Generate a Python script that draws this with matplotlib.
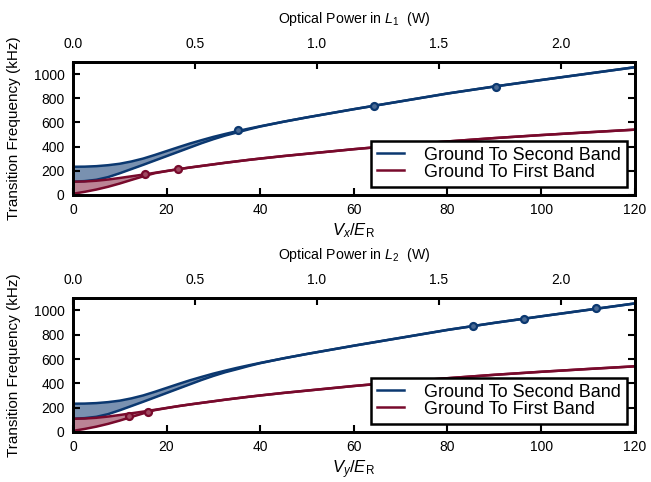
import matplotlib
matplotlib.use('Agg')
import matplotlib.pyplot as plt
import numpy as np

plt.rcParams['font.family'] = ['Liberation Sans', 'DejaVu Sans']
plt.rcParams['mathtext.fontset'] = 'custom'
plt.rcParams['mathtext.rm'] = 'Liberation Sans'
plt.rcParams['mathtext.it'] = 'Liberation Sans:italic'

# lattice depth grid (V/E_R)
V = [0, 2.5, 5, 7.5, 10, 12.5, 15, 17.5, 20, 22.5, 25, 27.5, 30, 32.5, 35, 37.5, 40, 45, 50, 60, 70, 80, 90, 100, 110, 120]
# ground -> second band, upper / lower edge (kHz)
second_hi = [232, 233, 237, 245, 257, 276, 300, 330, 362, 394, 425, 453, 480, 504, 527, 548, 568, 606, 642, 710, 775, 840, 898, 952, 1005, 1058]
second_lo = [108, 113, 124, 146, 178, 213, 248, 284, 320, 356, 392, 428, 461, 491, 516, 542, 566, 606, 642, 710, 775, 840, 898, 952, 1005, 1058]
# ground -> first band, upper / lower edge (kHz)
first_hi = [108, 110, 116, 126, 139, 153, 167, 182, 197, 212, 226, 239, 252, 265, 277, 289, 300, 321, 340, 378, 412, 442, 470, 495, 518, 540]
first_lo = [8, 24, 43, 66, 93, 123, 152, 179, 196, 212, 226, 239, 252, 265, 277, 289, 300, 321, 340, 378, 412, 442, 470, 495, 518, 540]

# measured points
top_blue_V = [35.2, 64.3, 90.3]
top_blue_f = [534, 737, 898]
top_red_V = [15.4, 22.4]
top_red_f = [169, 212]
bot_blue_V = [85.4, 96.3, 111.7]
bot_blue_f = [875, 933, 1017]
bot_red_V = [12.0, 16.0]
bot_red_f = [133, 167]

W_per_ER = 1 / 52.1

blue = '#0b3870'
red = '#780a2c'
fs = 10

fig = plt.figure(figsize=(6.51, 4.82), dpi=100, facecolor='w')
ax1 = fig.add_axes([0.112, 0.596, 0.863, 0.275])
ax2 = fig.add_axes([0.112, 0.104, 0.863, 0.277])


def panel(ax, bV, bf, rV, rf, xlab, toplab):
    ax.fill_between(V, second_lo, second_hi, color=blue, alpha=0.55, lw=0)
    ax.plot(V, second_hi, color=blue, lw=1.8)
    ax.plot(V, second_lo, color=blue, lw=1.8, label='Ground To Second Band')
    ax.fill_between(V, first_lo, first_hi, color=red, alpha=0.5, lw=0)
    ax.plot(V, first_hi, color=red, lw=1.8, label='Ground To First Band')
    ax.plot(V, first_lo, color=red, lw=1.8)
    ax.plot(bV, bf, 'o', ms=5, mec=blue, mfc='#4a6a94', mew=1.6)
    ax.plot(rV, rf, 'o', ms=5, mec=red, mfc='#a04a62', mew=1.6)
    ax.set_xlim(0, 120)
    ax.set_ylim(0, 1100)
    ax.set_yticks([0, 200, 400, 600, 800, 1000])
    ax.set_xticks([0, 20, 40, 60, 80, 100, 120])
    ax.tick_params(direction='in', length=5, width=1.5, labelsize=fs, right=True, pad=6)
    for s in ax.spines.values():
        s.set_linewidth(2)
    ax.set_xlabel(xlab, fontsize=12, labelpad=3)
    ax.set_ylabel('Transition Frequency (kHz)', fontsize=11, labelpad=9)
    leg = ax.legend(loc='lower right', fontsize=13, handlelength=1.5, borderaxespad=0.45,
                    fancybox=False, framealpha=1, edgecolor='k', borderpad=0.33,
                    handletextpad=1.1, labelspacing=0.0)
    leg.get_frame().set_linewidth(1.8)
    tw = ax.twiny()
    tw.set_xlim(0, 120 * W_per_ER)
    tw.set_xticks([0, 0.5, 1.0, 1.5, 2.0])
    tw.set_xticklabels(['0.0', '0.5', '1.0', '1.5', '2.0'])
    tw.tick_params(direction='in', length=5, width=1.5, labelsize=fs, pad=8)
    tw.set_xlabel(toplab, fontsize=10.2, labelpad=10)
    for s in tw.spines.values():
        s.set_linewidth(2)


panel(ax1, top_blue_V, top_blue_f, top_red_V, top_red_f,
      r'$V_x/E_\mathrm{R}$', r'Optical Power in $L_1$  (W)')
panel(ax2, bot_blue_V, bot_blue_f, bot_red_V, bot_red_f,
      r'$V_y/E_\mathrm{R}$', r'Optical Power in $L_2$  (W)')

fig.savefig('out.png', dpi=100)
